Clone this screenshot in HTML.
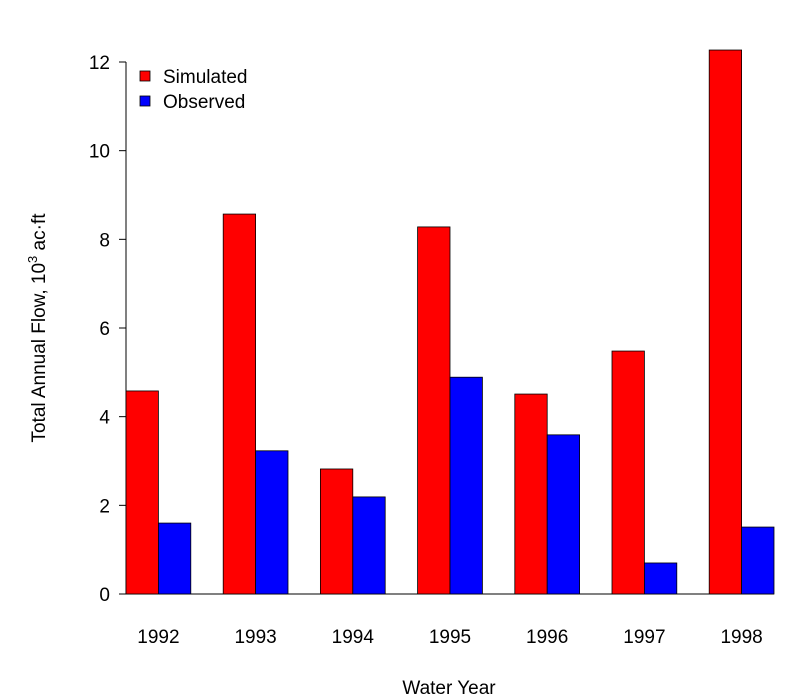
<!DOCTYPE html>
<html><head><meta charset="utf-8"><style>
body{margin:0;background:#fff;}
svg{display:block;font-family:"Liberation Sans",Arial,sans-serif;}
</style></head><body>
<svg id="chart" width="800" height="700" xmlns="http://www.w3.org/2000/svg">
<g id="axes"></g><g id="bars"></g>
<g>
<rect x="140" y="71" width="10" height="10" fill="#ff0000" stroke="#000" stroke-width="0.8"/>
<text x="163" y="83" font-size="19">Simulated</text>
<rect x="140" y="96" width="10" height="10" fill="#0000ff" stroke="#000" stroke-width="0.8"/>
<text x="163" y="108" font-size="19">Observed</text>
</g>
<text x="449" y="694" font-size="19" text-anchor="middle">Water Year</text>
<text transform="translate(45,328) rotate(-90)" font-size="19" text-anchor="middle">Total Annual Flow, 10<tspan dy="-8" font-size="13">3</tspan><tspan dy="8"> ac</tspan>·ft</text>
</svg>
<script>
const categories=["1992","1993","1994","1995","1996","1997","1998"];
const simulated=[4.58,8.57,2.82,8.28,4.51,5.48,12.27];
const observed=[1.60,3.23,2.19,4.89,3.59,0.70,1.51];
const yTicks=[0,2,4,6,8,10,12];
const NS="http://www.w3.org/2000/svg";
const x0=126,unit=32.4,y0=594,pxPer=(594-62)/12;
const yScale=v=>y0-v*pxPer;
const axes=document.getElementById('axes'),bars=document.getElementById('bars');
function mk(tag,attrs,parent){const e=document.createElementNS(NS,tag);for(const k in attrs)e.setAttribute(k,attrs[k]);parent.appendChild(e);return e;}
let l=mk('line',{x1:x0,x2:x0,y1:yScale(12),y2:y0,stroke:'#000'},axes);


let xl=mk('line',{x1:x0,x2:x0+20*unit,y1:y0,y2:y0,stroke:'#000'},axes);


yTicks.forEach(t=>{
 const y=yScale(t);
 const tk=mk('line',{x1:x0-7,x2:x0,y1:y,y2:y,stroke:'#000'},axes);
 
 
 const tx=mk('text',{x:x0-16,y:y+7,'font-size':19,'text-anchor':'end'},axes);
 tx.textContent=t;
 
 
});
categories.forEach((c,i)=>{
 const gx=x0+i*3*unit;
 const r=mk('rect',{x:gx,y:yScale(simulated[i]),width:unit,height:simulated[i]*pxPer,fill:'#ff0000',stroke:'#000','stroke-width':0.8},bars);
 
 
 const b=mk('rect',{x:gx+unit,y:yScale(observed[i]),width:unit,height:observed[i]*pxPer,fill:'#0000ff',stroke:'#000','stroke-width':0.8},bars);
 
 
 const t=mk('text',{x:gx+unit,y:643,'font-size':19,'text-anchor':'middle'},axes);
 t.textContent=c;
 
 
});
</script>
</body></html>
